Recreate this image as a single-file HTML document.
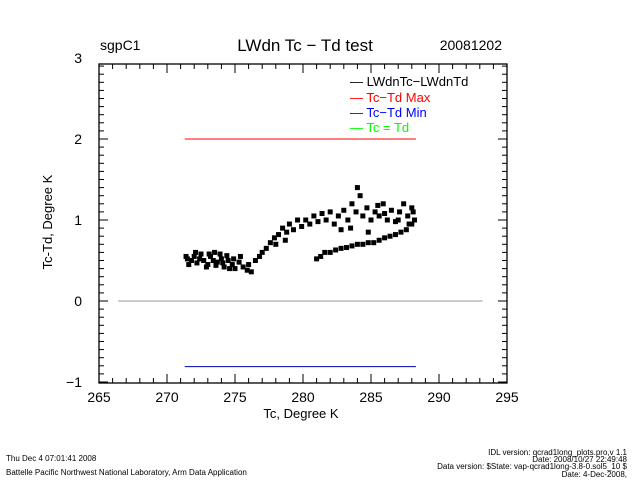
<!DOCTYPE html>
<html><head><meta charset="utf-8"><style>
body{margin:0;background:#fff;width:640px;height:480px;overflow:hidden;font-family:"Liberation Sans",sans-serif}
</style></head><body>
<svg id="chart" width="640" height="480" xmlns="http://www.w3.org/2000/svg" font-family="Liberation Sans, sans-serif">
<rect width="640" height="480" fill="#fff"/>
<text x="100" y="50" font-size="14">sgpC1</text>
<text x="305" y="51" font-size="17" text-anchor="middle">LWdn Tc − Td test</text>
<text x="502" y="50" font-size="14" text-anchor="end">20081202</text>
<g id="axes"></g>
<g id="marks"></g>
<g font-size="13">
<text x="350" y="86" fill="#000">—  LWdnTc−LWdnTd</text>
<text x="350" y="102" fill="#f00">—  Tc−Td Max</text>
<text x="350" y="117" fill="#00f">—  Tc−Td Min</text>
<text x="350" y="132" fill="#0f0">—  Tc = Td</text>
</g>
<text x="301" y="418" font-size="13" text-anchor="middle">Tc, Degree K</text>
<text x="0" y="0" font-size="13" text-anchor="middle" transform="translate(52,222) rotate(-90)">Tc-Td, Degree K</text>
<g font-size="8">
<text x="6" y="461">Thu Dec  4 07:01:41 2008</text>
<text x="6" y="475">Battelle Pacific Northwest National Laboratory, Arm Data Application</text>
<text x="627" y="455" text-anchor="end">IDL version: qcrad1long_plots.pro,v 1.1</text>
<text x="627" y="462" text-anchor="end">Date: 2008/10/27 22:49:48</text>
<text x="627" y="469" text-anchor="end">Data version: $State: vap-qcrad1long-3.8-0.sol5_10 $</text>
<text x="627" y="477" text-anchor="end">Date: 4-Dec-2008,</text>
</g>
</svg>
<script>
const xTicks=[265,270,275,280,285,290,295];
const yTicks=[-1,0,1,2,3];
const tc=[271.5,271.8,272,272.2,272.5,272.7,273,273.2,273.5,273.7,274,274.2,274.5,274.8,275,275.3,275.6,275.9,276.2,271.6,272.1,272.9,273.4,273.9,274.4,274.9,275.4,276,271.4,272.4,273.1,273.6,274.1,274.6,
276.5,276.8,277,277.3,277.6,277.9,278.2,278.5,278.8,279,279.3,279.6,279.9,278,278.7,
280.2,280.5,280.8,281.1,281.4,281.7,282,282.3,282.6,283,283.3,283.6,283.9,284.2,284.4,284.7,285,285.3,285.6,285.9,286.2,286.5,286.8,287.1,287.4,287.7,288,288.2,284,283.5,284.8,282.8,286,287,288.1,285.5,287.8,
281,281.3,281.6,282,282.4,282.8,283.2,283.6,284,284.4,284.8,285.2,285.6,286,286.4,286.8,287.2,287.6,288];
const diff=[.52,.5,.55,.47,.58,.5,.45,.55,.6,.48,.52,.42,.5,.45,.4,.48,.42,.38,.36,.45,.6,.42,.5,.58,.56,.52,.55,.45,.55,.52,.58,.44,.47,.4,
.5,.55,.6,.65,.72,.78,.82,.9,.85,.95,.88,1.0,.92,.7,.75,
1.0,.95,1.05,.98,1.08,1.0,1.1,.95,1.05,1.12,1.0,1.2,1.1,1.3,1.05,1.15,1.0,1.1,1.05,1.2,1.0,1.12,.98,1.1,1.2,1.05,1.15,1.0,1.4,.9,.85,.88,1.08,1.0,1.1,1.18,.95,
.52,.55,.6,.6,.63,.65,.66,.68,.7,.7,.72,.72,.75,.78,.8,.82,.85,.88,.95];
const maxVal=2, minVal=-0.81, maxRange=[271.3,288.3], zeroRange=[266.4,293.2];
const X0=99,X1=507,Y0=383,Y1=64;
const xs=t=>X0+(t-265)*(X1-X0)/30;
const ys=v=>301-81*v;
const NS='http://www.w3.org/2000/svg';
function mk(tag,attrs,parent){const e=document.createElementNS(NS,tag);for(const k in attrs)e.setAttribute(k,attrs[k]);parent.appendChild(e);return e;}
const axes=document.getElementById('axes'),marks=document.getElementById('marks');
const frame=mk('rect',{x:X0,y:Y1,width:X1-X0,height:Y0-Y1,fill:'none',stroke:'#000','stroke-width':1.3},axes);


for(let t=265;t<=295;t++){const L=(t%5===0)?9:5;const x=xs(t);
mk('line',{x1:x,x2:x,y1:Y0,y2:Y0-L,stroke:'#000'},axes);mk('line',{x1:x,x2:x,y1:Y1,y2:Y1+L,stroke:'#000'},axes);}
for(let i=-10;i<=29;i++){const v=i/10;const y=ys(v);if(y<Y1||y>Y0)continue;const L=(i%10===0)?9:5;
mk('line',{x1:X0,x2:X0+L,y1:y,y2:y,stroke:'#000'},axes);mk('line',{x1:X1,x2:X1-L,y1:y,y2:y,stroke:'#000'},axes);}
xTicks.forEach(t=>{const e=mk('text',{x:xs(t),y:402,'font-size':14,'text-anchor':'middle'},axes);e.textContent=t;

});
yTicks.forEach(v=>{const e=mk('text',{x:82,y:Math.min(ys(v),Y0)+5,'font-size':14,'text-anchor':'end'},axes);e.textContent=v===-1?'−1':v;

});
const z=mk('line',{x1:xs(zeroRange[0]),x2:xs(zeroRange[1]),y1:ys(0),y2:ys(0),stroke:'#999'},marks);


const mx=mk('line',{x1:xs(maxRange[0]),x2:xs(maxRange[1]),y1:ys(maxVal),y2:ys(maxVal),stroke:'#f00'},marks);


const mn=mk('line',{x1:xs(maxRange[0]),x2:xs(maxRange[1]),y1:ys(minVal),y2:ys(minVal),stroke:'#00a'},marks);


tc.forEach((t,i)=>{const r=mk('rect',{x:xs(t)-2.5,y:ys(diff[i])-2.5,width:5,height:5,fill:'#000'},marks);

});
</script>
</body></html>
